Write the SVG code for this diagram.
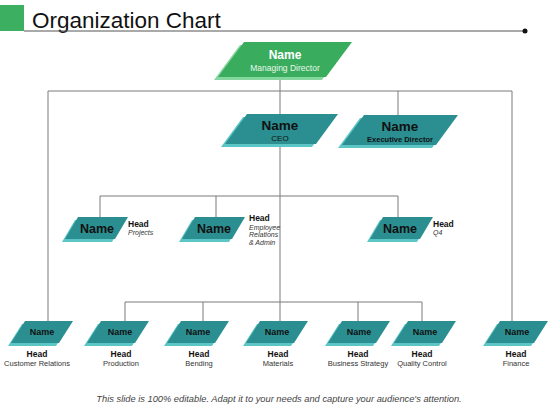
<svg xmlns="http://www.w3.org/2000/svg" width="560" height="420" viewBox="0 0 560 420">
<style>
.bg{fill:#ffffff}
.conn{stroke:#7a7a7a;stroke-width:1;fill:none}
.tm{fill:#2b8f91}
.ts{fill:#5cc6c6}
.gm{fill:#3aac5e}
.gs{fill:#86d6a0}
text{font-family:"Liberation Sans",Arial,sans-serif}
.nm{font-weight:bold;fill:#111;text-anchor:middle}
.hd{font-weight:bold;fill:#111;font-size:8.5px}
.sub{fill:#333;font-size:7px;font-style:italic}
.bh{font-weight:bold;fill:#111;font-size:8.5px;text-anchor:middle}
.bs{fill:#333;font-size:7.5px;text-anchor:middle}
</style>
<rect class="bg" x="0" y="0" width="560" height="420"/>
<g id="title">
<rect x="0" y="5" width="24" height="26" fill="#3cb060"/>
<text x="32" y="28" font-size="22.5" fill="#111">Organization Chart</text>
<line x1="24" y1="31" x2="525" y2="31" stroke="#555" stroke-width="1"/>
<circle cx="525" cy="31" r="2.5" fill="#111"/>
</g>
<g id="connectors" class="conn">
<line x1="48" y1="91" x2="512" y2="91"/>
<line x1="280" y1="77" x2="280" y2="321"/>
<line x1="398" y1="91" x2="398" y2="115"/>
<line x1="48" y1="91" x2="48" y2="321"/>
<line x1="512" y1="91" x2="512" y2="321"/>
<line x1="100" y1="196" x2="398" y2="196"/>
<line x1="100" y1="196" x2="100" y2="217"/>
<line x1="216" y1="196" x2="216" y2="217"/>
<line x1="398" y1="196" x2="398" y2="217"/>
<line x1="125" y1="302" x2="422" y2="302"/>
<line x1="125" y1="302" x2="125" y2="321"/>
<line x1="203" y1="302" x2="203" y2="321"/>
<line x1="358" y1="302" x2="358" y2="321"/>
<line x1="422" y1="302" x2="422" y2="321"/>
</g>
<g id="md">
<polygon class="gs" points="240,45 348,45 322,80 214,80"/>
<polygon class="gm" points="244,42 352,42 326,77 218,77"/>
<text x="285" y="59" font-size="12" font-weight="bold" fill="#fff" text-anchor="middle">Name</text>
<text x="285" y="71" font-size="8.5" fill="#e8f8ec" text-anchor="middle">Managing Director</text>
</g>
<g id="ceo">
<polygon class="ts" points="243,117 334,117 312,147 221,147"/>
<polygon class="tm" points="247,114 338,114 316,144 225,144"/>
<text class="nm" x="280" y="130" font-size="13.5">Name</text>
<text x="280" y="141" font-size="8" fill="#111" text-anchor="middle">CEO</text>
</g>
<g id="exec">
<polygon class="ts" points="360,118 454,118 432,148 338,148"/>
<polygon class="tm" points="364,115 458,115 436,145 342,145"/>
<text class="nm" x="400" y="131" font-size="13.5">Name</text>
<text x="400" y="142" font-size="7.5" font-weight="bold" fill="#111" text-anchor="middle">Executive Director</text>
</g>
<g id="projects">
<polygon class="ts" points="75,220 125,220 112,242 62,242"/>
<polygon class="tm" points="78,217 128,217 115,239 65,239"/>
<text class="nm" x="97" y="233" font-size="12.5">Name</text>
<text class="hd" x="128" y="227">Head</text>
<text class="sub" x="128" y="235">Projects</text>
</g>
<g id="employee">
<polygon class="ts" points="192,220 242,220 229,242 179,242"/>
<polygon class="tm" points="195,217 245,217 232,239 182,239"/>
<text class="nm" x="214" y="233" font-size="12.5">Name</text>
<text class="hd" x="249" y="221">Head</text>
<text class="sub" x="249" y="229.5">Employee</text>
<text class="sub" x="249" y="237">Relations</text>
<text class="sub" x="249" y="244.5">&amp; Admin</text>
</g>
<g id="q4">
<polygon class="ts" points="380,220 430,220 417,242 367,242"/>
<polygon class="tm" points="383,217 433,217 420,239 370,239"/>
<text class="nm" x="400" y="233" font-size="12.5">Name</text>
<text class="hd" x="433" y="227">Head</text>
<text class="sub" x="433" y="235">Q4</text>
</g>
<g id="customer">
<polygon class="ts" points="22,324 70,324 56,346 8,346"/>
<polygon class="tm" points="25,321 73,321 59,343 11,343"/>
<text class="nm" x="42" y="335" font-size="9">Name</text>
<text class="bh" x="37" y="357">Head</text>
<text class="bs" x="37" y="366">Customer Relations</text>
</g>
<g id="production">
<polygon class="ts" points="98,324 146,324 132,346 84,346"/>
<polygon class="tm" points="101,321 149,321 135,343 87,343"/>
<text class="nm" x="120" y="335" font-size="9">Name</text>
<text class="bh" x="121" y="357">Head</text>
<text class="bs" x="121" y="366">Production</text>
</g>
<g id="bending">
<polygon class="ts" points="178,324 226,324 212,346 164,346"/>
<polygon class="tm" points="181,321 229,321 215,343 167,343"/>
<text class="nm" x="198" y="335" font-size="9">Name</text>
<text class="bh" x="199" y="357">Head</text>
<text class="bs" x="199" y="366">Bending</text>
</g>
<g id="materials">
<polygon class="ts" points="257,324 305,324 291,346 243,346"/>
<polygon class="tm" points="260,321 308,321 294,343 246,343"/>
<text class="nm" x="277" y="335" font-size="9">Name</text>
<text class="bh" x="278" y="357">Head</text>
<text class="bs" x="278" y="366">Materials</text>
</g>
<g id="business">
<polygon class="ts" points="339,324 387,324 373,346 325,346"/>
<polygon class="tm" points="342,321 390,321 376,343 328,343"/>
<text class="nm" x="359" y="335" font-size="9">Name</text>
<text class="bh" x="358" y="357">Head</text>
<text class="bs" x="358" y="366">Business Strategy</text>
</g>
<g id="quality">
<polygon class="ts" points="405,324 453,324 439,346 391,346"/>
<polygon class="tm" points="408,321 456,321 442,343 394,343"/>
<text class="nm" x="425" y="335" font-size="9">Name</text>
<text class="bh" x="422" y="357">Head</text>
<text class="bs" x="422" y="366">Quality Control</text>
</g>
<g id="finance">
<polygon class="ts" points="497,324 545,324 531,346 483,346"/>
<polygon class="tm" points="500,321 548,321 534,343 486,343"/>
<text class="nm" x="517" y="335" font-size="9">Name</text>
<text class="bh" x="516" y="357">Head</text>
<text class="bs" x="516" y="366">Finance</text>
</g>
<text x="279" y="402" font-size="9.3" font-style="italic" fill="#444" text-anchor="middle">This slide is 100% editable. Adapt it to your needs and capture your audience's attention.</text>
</svg>
